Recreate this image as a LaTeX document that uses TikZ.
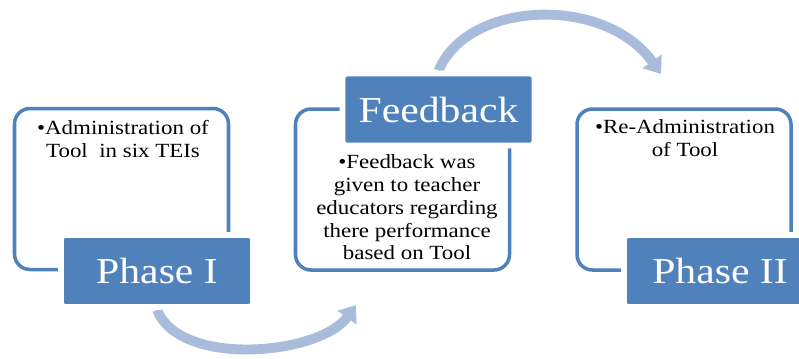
\documentclass[tikz,border=0pt]{standalone}
\usepackage{fontspec}
\setmainfont{Liberation Serif}[FakeStretch=1.14]
\usetikzlibrary{arrows.meta,backgrounds}

\newlength\px
\setlength\px{0.025cm}
\definecolor{phaseblue}{RGB}{79,129,189}
\definecolor{flowblue}{RGB}{170,188,219}

\tikzset{
  phaseframe/.style={draw=phaseblue,line width=2.5pt,fill=white,rounded corners=11pt,minimum width=214\px,minimum height=161\px},
  phaselabel/.style={draw=white,line width=4pt,fill=phaseblue,rounded corners=3pt,text=white,inner sep=0pt,minimum width=192\px,minimum height=72\px,font=\fontsize{26}{30}\selectfont},
  phasetext/.style={anchor=north,align=center,inner sep=0pt,font=\fontsize{14.3}{16.2}\selectfont},
  phasearrow/.style={draw=flowblue,line width=7pt,-{Triangle[width=16pt,length=11pt]}}
}

\begin{document}
\begin{tikzpicture}[x=0.025cm,y=-0.025cm]
    \useasboundingbox (0,0) rectangle (799,358);

    \node[phaseframe] (frame1) at (121.5,189) {};
    \node[phaseframe] (frame2) at (402.5,189.5) {};
    \node[phaseframe] (frame3) at (684,189.5) {};

    \node[phaselabel] (phase1) at (157,271) {Phase I};
    \node[phaselabel] (feedback) at (438.5,109.5) {Feedback};
    \node[phaselabel] (phase2) at (720,271) {Phase II};

    \node[phasetext] (text1) at (123,120.5) {\textbullet Administration of\\Tool\ \ in six TEIs};
    \node[phasetext] (text2) at (407,154.5) {\textbullet Feedback was\\given to teacher\\educators regarding\\there performance\\based on Tool};
    \node[phasetext] (text3) at (685,119.5) {\textbullet Re-Administration\\of Tool};

    \coordinate (tip1) at (356,305);
    \coordinate (tip2) at (661,74);

    \begin{scope}[on background layer]
        \draw[phasearrow] (phase1.south) .. controls (180,368) and (320,355) .. (tip1);
        \draw[phasearrow] (feedback.north) .. controls (468,0) and (605,-5) .. (tip2);
    \end{scope}
\end{tikzpicture}
\end{document}
